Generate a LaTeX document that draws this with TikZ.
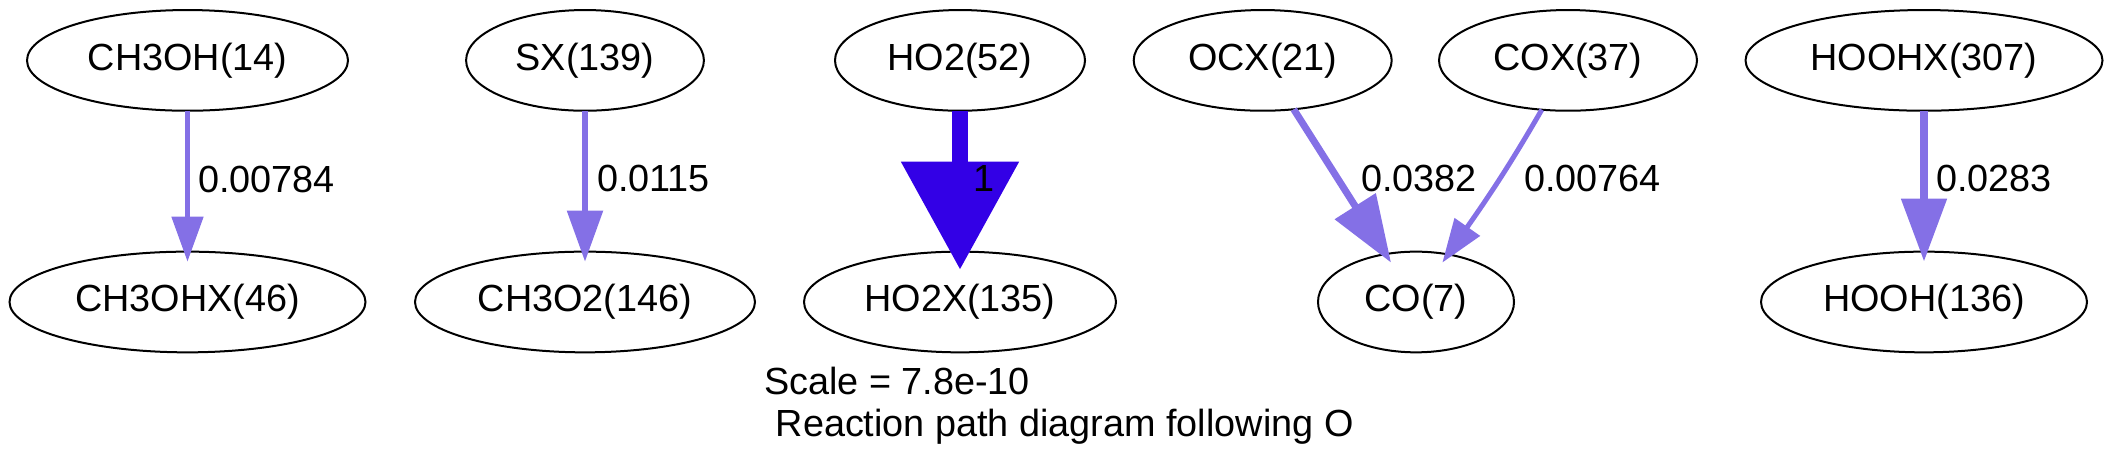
\documentclass[tikz,border=0pt]{standalone}
\usepackage{fontspec}
\setmainfont{Liberation Sans}
\usetikzlibrary{arrows.meta,shapes.geometric}
\definecolor{lightp}{RGB}{132,112,230}
\definecolor{darkp}{RGB}{51,0,230}
\begin{document}
\begin{tikzpicture}[x=0.5pt,y=0.5pt,
  sp/.style={ellipse,draw,line width=1pt,minimum height=50.35pt,inner sep=0pt,outer sep=0pt,font=\fontsize{18.9}{22.7}\selectfont},
  lbl/.style={anchor=base west,inner sep=0pt,outer sep=0pt,font=\fontsize{18.9}{22.7}\selectfont},
  flow/.style={draw=lightp,shorten >=-5pt}]
\useasboundingbox (0,0) rectangle (2114,469);
% species
\node[sp,minimum width=160.5pt] (ch3oh) at (187.5,408.6) {CH3OH(14)};
\node[sp,minimum width=178pt] (ch3ohx) at (187.5,167) {CH3OHX(46)};
\node[sp,minimum width=118.9pt] (sx) at (585,408.6) {SX(139)};
\node[sp,minimum width=170pt] (ch3o2) at (585,167) {CH3O2(146)};
\node[sp,minimum width=125pt] (ho2) at (960,408.6) {HO2(52)};
\node[sp,minimum width=156pt] (ho2x) at (960,167) {HO2X(135)};
\node[sp,minimum width=129pt] (ocx) at (1262.7,408.6) {OCX(21)};
\node[sp,minimum width=129pt] (cox) at (1568,408.6) {COX(37)};
\node[sp,minimum width=98pt] (co) at (1416,167) {CO(7)};
\node[sp,minimum width=178.5pt] (hoohx) at (1924,408.6) {HOOHX(307)};
\node[sp,minimum width=163pt] (hooh) at (1924,167) {HOOH(136)};
% fluxes
\draw[flow,line width=2.5pt,-{Triangle[length=22.5pt,width=15.5pt]}] (ch3oh) -- (ch3ohx);
\draw[flow,line width=2.75pt,-{Triangle[length=25.5pt,width=17.5pt]}] (sx) -- (ch3o2);
\draw[draw=darkp,shorten >=-9pt,line width=8pt,-{Triangle[length=54pt,width=57pt]}] (ho2) -- (ho2x);
\draw[flow,line width=3.5pt,-{Triangle[length=33.4pt,width=23.5pt]}] (ocx) -- (co);
\draw[flow,line width=2.5pt,-{Triangle[length=21.8pt,width=15pt]}] (cox.242) to[out=240,in=55] (co.56);
\draw[flow,line width=4.15pt,-{Triangle[length=31.5pt,width=22pt]}] (hoohx) -- (hooh);
% labels
\node[lbl] (l1) at (198,276) {0.00784};
\node[lbl] (l2) at (597,277.3) {0.0115};
\node[lbl] (l3) at (973,277.3) {1};
\node[lbl] (l4) at (1361,277.3) {0.0382};
\node[lbl] (l5) at (1524,277.3) {0.00764};
\node[lbl] (l6) at (1936,277.3) {0.0283};
\node[lbl] (scl) at (764,74.7) {Scale = 7.8e-10};
\node[lbl] (ttl) at (775.7,32.3) {Reaction path diagram following O};
\end{tikzpicture}
\end{document}
